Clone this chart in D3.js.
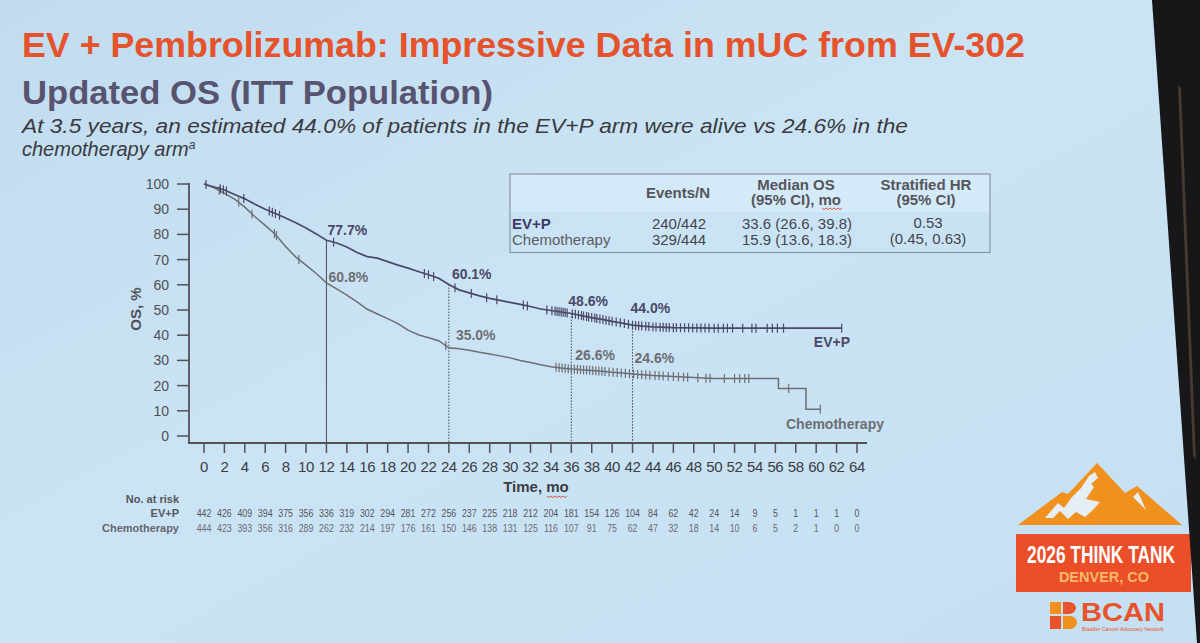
<!DOCTYPE html>
<meta charset="utf-8">
<style>
body { margin: 0; overflow: hidden; background: #c9e3f3; }
svg { display: block; font-family: "Liberation Sans", Arial, sans-serif; }
</style>
<body>
<script src="https://cdn.jsdelivr.net/npm/d3@7/dist/d3.min.js"></script>
<script>

var width = 1200, height = 643;

// Kaplan-Meier curves (time in months, OS in %)
var evpTime = [0, 1, 2, 3, 4, 5, 6, 7, 8, 9, 10, 11, 12, 13, 14, 15, 16, 17, 18, 19, 20, 21, 22, 23, 24,
  25, 26, 27, 28, 29, 30, 31, 32, 33, 34, 35, 36, 37, 38, 39, 40, 41, 42, 43, 44, 46, 50, 62.5];
var evpSurv = [100, 98.8, 97.6, 95.8, 94.1, 92.0, 90.0, 88.3, 86.5, 84.6, 82.5, 80.2, 77.7, 76.6, 75.0, 72.8, 71.2, 70.6, 69.2, 67.8, 66.6, 65.3, 64.0, 62.6, 60.1,
  58.0, 56.8, 55.6, 54.6, 53.8, 53.0, 52.2, 51.4, 50.4, 49.8, 49.2, 48.6, 47.8, 47.0, 46.3, 45.5, 44.8, 44.0, 43.6, 43.3, 43.0, 42.8, 42.8];

var chemoTime = [0, 1, 2, 3, 4, 5, 6, 7, 8, 9, 10, 11, 12, 13, 14, 15, 16, 17, 18, 19, 20, 21, 22, 23, 24,
  25, 26, 27, 28, 29, 30, 31, 32, 33, 34, 35, 36, 37, 38, 39, 40, 41, 42, 43, 44, 46, 48, 50, 56.3, 56.3, 59, 59, 60.4];
var chemoSurv = [100, 98.5, 96.3, 94.0, 90.8, 87.0, 83.6, 80.0, 75.2, 71.0, 67.8, 64.5, 60.8, 58.4, 55.9, 53.2, 50.3, 48.4, 46.6, 44.6, 42.0, 40.2, 39.0, 37.8, 35.0,
  34.6, 34.0, 33.2, 32.5, 31.8, 31.0, 30.0, 29.2, 28.3, 27.5, 27.0, 26.6, 26.3, 26.0, 25.7, 25.3, 25.0, 24.6, 24.3, 24.0, 23.6, 23.2, 22.8, 22.8, 18.8, 18.8, 10.6, 10.6];

// censoring marks (months)
var evpCensor = [0.2, 1.6, 1.9, 2.2, 3.9, 6.4, 6.7, 7.0, 7.4, 12.7, 21.6, 22.0, 22.5, 24.6, 26.2, 27.7, 28.7, 31.3, 31.7,
  33.6, 34.1, 34.4, 34.6, 34.8, 35.0, 35.2, 35.4, 35.6, 36.1, 36.4, 36.7, 37.0, 37.2, 37.5, 37.7, 38.0, 38.3, 38.5, 38.8,
  39.1, 39.4, 39.7, 40.0, 40.4, 40.8, 41.2, 41.6, 42.0, 42.3, 42.6, 42.9, 43.3, 43.6, 44.0, 44.3, 44.7, 45.0, 45.3, 45.6,
  46.0, 46.3, 46.7, 47.1, 47.5, 47.9, 48.3, 48.7, 49.1, 49.5, 50.0, 50.4, 50.9, 51.3, 51.8, 52.8, 53.7, 54.1, 55.2, 55.7,
  56.2, 56.8, 62.5];
var chemoCensor = [1.5, 3.4, 4.7, 6.9, 7.1, 9.3, 23.7, 34.5, 34.8, 35.1, 35.4, 35.7, 36.0, 36.3, 36.6, 36.9, 37.2, 37.5,
  37.8, 38.1, 38.4, 38.7, 39.0, 39.3, 39.7, 40.1, 40.5, 40.9, 41.3, 41.7, 42.1, 42.5, 42.9, 43.3, 43.7, 44.2, 44.6, 45.0,
  45.5, 46.0, 46.5, 47.0, 47.4, 48.4, 49.2, 49.6, 51.0, 52.0, 52.5, 53.0, 53.4, 57.3, 60.4];

var landmarkTime = [12, 24, 36, 42];
var evpLandmark = [77.7, 60.1, 48.6, 44.0];
var chemoLandmark = [60.8, 35.0, 26.6, 24.6];

var xTicks = [0, 2, 4, 6, 8, 10, 12, 14, 16, 18, 20, 22, 24, 26, 28, 30, 32, 34, 36, 38, 40, 42, 44, 46, 48, 50, 52, 54, 56, 58, 60, 62, 64];
var yTicks = [0, 10, 20, 30, 40, 50, 60, 70, 80, 90, 100];

var evpAtRisk = [442, 426, 409, 394, 375, 356, 336, 319, 302, 294, 281, 272, 256, 237, 225, 218, 212, 204, 181, 154, 126, 104, 84, 62, 42, 24, 14, 9, 5, 1, 1, 1, 0];
var chemoAtRisk = [444, 423, 393, 356, 316, 289, 262, 232, 214, 197, 176, 161, 150, 146, 138, 131, 125, 116, 107, 91, 75, 62, 47, 32, 18, 14, 10, 6, 5, 2, 1, 0, 0];

var tableArms = ["EV+P", "Chemotherapy"];
var tableEvents = ["240/442", "329/444"];
var tableMedian = ["33.6 (26.6, 39.8)", "15.9 (13.6, 18.3)"];
var tableHR = ["0.53", "(0.45, 0.63)"];

var evpColor = "#4b4868", chemoColor = "#6e6e72", axisColor = "#525258";

var svg = d3.select("body").append("svg")
    .attr("width", width)
    .attr("height", height);

// slide background
var defs = svg.append("defs");
var bg = defs.append("linearGradient").attr("id", "bg")
    .attr("x1", 0).attr("y1", 0).attr("x2", 1).attr("y2", 1);
bg.append("stop").attr("offset", 0).attr("stop-color", "#c1dcef");
bg.append("stop").attr("offset", 0.45).attr("stop-color", "#cae4f5");
bg.append("stop").attr("offset", 1).attr("stop-color", "#c5e0f2");
svg.append("rect").attr("width", width).attr("height", height).attr("fill", "url(#bg)");

// titles
svg.append("text").attr("x", 22).attr("y", 57)
    .attr("fill", "#e5522b").attr("font-weight", "bold").attr("font-size", 35)
    .attr("textLength", 1003).attr("lengthAdjust", "spacingAndGlyphs")
    .text("EV + Pembrolizumab: Impressive Data in mUC from EV-302");
svg.append("text").attr("x", 22).attr("y", 104)
    .attr("fill", "#58546f").attr("font-weight", "bold").attr("font-size", 33)
    .attr("textLength", 471).attr("lengthAdjust", "spacingAndGlyphs")
    .text("Updated OS (ITT Population)");
svg.append("text").attr("x", 22).attr("y", 133)
    .attr("fill", "#3a3a40").attr("font-style", "italic").attr("font-size", 20)
    .attr("textLength", 886).attr("lengthAdjust", "spacingAndGlyphs")
    .text("At 3.5 years, an estimated 44.0% of patients in the EV+P arm were alive vs 24.6% in the");
var sub2 = svg.append("text").attr("x", 22).attr("y", 156)
    .attr("fill", "#3a3a40").attr("font-style", "italic").attr("font-size", 20);
sub2.append("tspan").text("chemotherapy arm");
sub2.append("tspan").attr("font-size", 12).attr("dy", -7).text("a");

// scales
var x = d3.scaleLinear().domain([0, 64]).range([204, 857]);
var y = d3.scaleLinear().domain([0, 100]).range([436, 184]);
var axisY = 443, axisX = 189;

var g = svg.append("g");

// y axis
g.append("line").attr("x1", axisX).attr("x2", axisX).attr("y1", 183).attr("y2", axisY)
    .attr("stroke", axisColor).attr("stroke-width", 1.8);
g.selectAll(".yt").data(yTicks).enter().append("line")
    .attr("x1", axisX - 12).attr("x2", axisX)
    .attr("y1", function(d) { return y(d); }).attr("y2", function(d) { return y(d); })
    .attr("stroke", axisColor).attr("stroke-width", 1.5);
g.selectAll(".yl").data(yTicks).enter().append("text")
    .attr("x", 169).attr("y", function(d) { return y(d) + 5; })
    .attr("text-anchor", "end").attr("font-size", 14).attr("fill", "#505056")
    .text(function(d) { return d; });
g.append("text").attr("transform", "translate(141,309) rotate(-90)")
    .attr("text-anchor", "middle").attr("font-size", 15).attr("font-weight", "bold")
    .attr("fill", "#505056").text("OS, %");

// x axis
g.append("line").attr("x1", axisX - 1).attr("x2", 867).attr("y1", axisY).attr("y2", axisY)
    .attr("stroke", axisColor).attr("stroke-width", 1.8);
g.selectAll(".xt").data(xTicks).enter().append("line")
    .attr("x1", function(d) { return x(d); }).attr("x2", function(d) { return x(d); })
    .attr("y1", axisY).attr("y2", axisY + 10)
    .attr("stroke", axisColor).attr("stroke-width", 1.5);
g.selectAll(".xl").data(xTicks).enter().append("text")
    .attr("x", function(d) { return x(d); }).attr("y", 472)
    .attr("text-anchor", "middle").attr("font-size", 15).attr("fill", "#3c3c44")
    .attr("letter-spacing", -0.4)
    .text(function(d) { return d; });
g.append("text").attr("x", 536).attr("y", 492).attr("text-anchor", "middle")
    .attr("font-size", 15).attr("font-weight", "bold").attr("fill", "#3c3c44").text("Time, mo");

function squiggle(x0, x1, yy) {
  var p = "M" + x0 + "," + yy;
  for (var xx = x0, k = 0; xx < x1; xx += 2, k++) p += "L" + (xx + 2) + "," + (yy + (k % 2 ? 0 : 1.6));
  svg.append("path").attr("d", p).attr("fill", "none").attr("stroke", "#d9463a").attr("stroke-width", 0.9);
}
squiggle(547, 567, 496);

// survival helpers
function survAt(times, surv, t) {
  if (t <= times[0]) return surv[0];
  for (var i = 1; i < times.length; i++) {
    if (t <= times[i]) {
      var t0 = times[i - 1], t1 = times[i];
      if (t1 === t0) return surv[i];
      return surv[i - 1] + (surv[i] - surv[i - 1]) * (t - t0) / (t1 - t0);
    }
  }
  return surv[surv.length - 1];
}

// landmark verticals
landmarkTime.forEach(function(t, i) {
  g.append("line").attr("x1", x(t)).attr("x2", x(t))
      .attr("y1", y(evpLandmark[i])).attr("y2", axisY)
      .attr("stroke", "#4a4a52").attr("stroke-width", 1)
      .attr("stroke-dasharray", i === 0 ? null : "1.5,1.5");
});

var line = d3.line()
    .x(function(d) { return x(d[0]); })
    .y(function(d) { return y(d[1]); });

function drawArm(times, surv, censor, color, w) {
  g.append("path").datum(d3.zip(times, surv))
      .attr("d", line).attr("fill", "none")
      .attr("stroke", color).attr("stroke-width", w);
  g.selectAll(null).data(censor).enter().append("line")
      .attr("x1", function(d) { return x(d); }).attr("x2", function(d) { return x(d); })
      .attr("y1", function(d) { return y(survAt(times, surv, d)) - 4.5; })
      .attr("y2", function(d) { return y(survAt(times, surv, d)) + 4.5; })
      .attr("stroke", color).attr("stroke-width", 1.2);
}
drawArm(chemoTime, chemoSurv, chemoCensor, chemoColor, 1.5);
drawArm(evpTime, evpSurv, evpCensor, evpColor, 1.7);

// landmark labels
var evpNudge = [[1, -5], [3, -6], [-3, -8], [-2, -12]];
var chemoNudge = [[2, -1], [7, -8], [4, -9], [2, -11]];
landmarkTime.forEach(function(t, i) {
  g.append("text").attr("x", x(t) + evpNudge[i][0]).attr("y", y(evpLandmark[i]) + evpNudge[i][1])
      .attr("font-size", 14).attr("font-weight", "bold").attr("fill", evpColor)
      .text(evpLandmark[i].toFixed(1) + "%");
  g.append("text").attr("x", x(t) + chemoNudge[i][0]).attr("y", y(chemoLandmark[i]) + chemoNudge[i][1])
      .attr("font-size", 14).attr("font-weight", "bold").attr("fill", chemoColor)
      .text(chemoLandmark[i].toFixed(1) + "%");
});
g.append("text").attr("x", 850).attr("y", 347).attr("text-anchor", "end")
    .attr("font-size", 14).attr("font-weight", "bold").attr("fill", evpColor).text("EV+P");
g.append("text").attr("x", 884).attr("y", 429).attr("text-anchor", "end")
    .attr("font-size", 14).attr("font-weight", "bold").attr("fill", chemoColor).text("Chemotherapy");

// numbers at risk
g.append("text").attr("x", 179).attr("y", 503).attr("text-anchor", "end")
    .attr("font-size", 11).attr("font-weight", "bold").attr("fill", "#55555c").text("No. at risk");
g.append("text").attr("x", 179).attr("y", 517).attr("text-anchor", "end")
    .attr("font-size", 11).attr("font-weight", "bold").attr("fill", "#55555c").text("EV+P");
g.append("text").attr("x", 179).attr("y", 532).attr("text-anchor", "end")
    .attr("font-size", 11).attr("font-weight", "bold").attr("fill", "#66666c").text("Chemotherapy");
[[evpAtRisk, 517, "#55555c"], [chemoAtRisk, 532, "#6a6a70"]].forEach(function(row) {
  g.selectAll(null).data(row[0]).enter().append("text")
      .attr("transform", function(d, i) { return "translate(" + x(xTicks[i]) + "," + row[1] + ") scale(0.84,1)"; })
      .attr("text-anchor", "middle").attr("font-size", 10.5).attr("fill", row[2])
      .text(function(d) { return d; });
});

// summary table
var tb = svg.append("g");
tb.append("rect").attr("x", 510).attr("y", 174).attr("width", 480).attr("height", 38)
    .attr("fill", "#d4eaf8");
tb.append("rect").attr("x", 510).attr("y", 174).attr("width", 480).attr("height", 78.5)
    .attr("fill", "none").attr("stroke", "#8795a0").attr("stroke-width", 1.2);
var hdr = { "font-size": 15, "font-weight": "bold", "fill": "#55555c", "text-anchor": "middle" };
function txt(xx, yy, s, a) {
  var t = tb.append("text").attr("x", xx).attr("y", yy).text(s);
  for (var k in a) t.attr(k, a[k]);
  return t;
}
txt(678, 198, "Events/N", hdr);
txt(796, 190, "Median OS", hdr);
txt(796, 205, "(95% CI), mo", hdr);
txt(926, 190, "Stratified HR", hdr);
txt(926, 205, "(95% CI)", hdr);
squiggle(822, 842, 208);
var cell = { "font-size": 15, "fill": "#45454c", "text-anchor": "middle" };
tableArms.forEach(function(a, i) {
  var yy = i === 0 ? 229 : 245;
  txt(512, yy, a, { "font-size": 15, "font-weight": i === 0 ? "bold" : "normal",
    "fill": i === 0 ? "#3d3a68" : "#5c5c62" });
  txt(679, yy, tableEvents[i], cell);
  txt(797, yy, tableMedian[i], cell);
  txt(928, yy - 1, tableHR[i], cell);
});

// conference logo
var logo = svg.append("g");
logo.append("path")
    .attr("d", "M1018,525 L1062,492 L1068,494 L1097,463 L1125,493 L1137,486 L1182,525 Z")
    .attr("fill", "#f0911e");
logo.append("path")
    .attr("d", "M1045,518 L1058,503 L1064,508 L1072,497 L1081,488 L1089,476 L1095,472 L1098,478 L1091,484 L1094,487 L1086,499 L1100,502 L1093,510 L1085,517 L1076,512 L1068,519 L1060,511 L1053,518 Z")
    .attr("fill", "#e4eef4");
logo.append("path").attr("d", "M1133,497 L1138,492 L1146,510 Z").attr("fill", "#e4eef4");
logo.append("rect").attr("x", 1016).attr("y", 534).attr("width", 175).attr("height", 58)
    .attr("fill", "#ea4f2a");
logo.append("text").attr("transform", "translate(1027,563) scale(1,1.45)")
    .attr("fill", "#ffffff").attr("font-size", 17).attr("font-weight", "bold")
    .attr("textLength", 148).attr("lengthAdjust", "spacingAndGlyphs").text("2026 THINK TANK");
logo.append("text").attr("x", 1104).attr("y", 582).attr("text-anchor", "middle")
    .attr("fill", "#f9b967").attr("font-size", 14.5).attr("font-weight", "bold").text("DENVER, CO");
logo.append("rect").attr("x", 1050).attr("y", 602).attr("width", 11).attr("height", 12).attr("fill", "#f0911e");
logo.append("rect").attr("x", 1050).attr("y", 616).attr("width", 11).attr("height", 13).attr("fill", "#e8532b");
logo.append("path").attr("d", "M1063,602 h6 a7,6 0 0 1 0,12 h-6 Z").attr("fill", "#e8532b");
logo.append("path").attr("d", "M1063,616 h7 a7,6.5 0 0 1 0,13 h-7 Z").attr("fill", "#f0911e");
logo.append("text").attr("x", 1081).attr("y", 621).attr("fill", "#e8532b")
    .attr("font-size", 26).attr("font-weight", "bold")
    .attr("textLength", 84).attr("lengthAdjust", "spacingAndGlyphs").text("BCAN");
logo.append("text").attr("x", 1082).attr("y", 631).attr("fill", "#e8532b")
    .attr("font-size", 4.5).attr("textLength", 82).attr("lengthAdjust", "spacingAndGlyphs")
    .text("Bladder Cancer Advocacy Network");

// projector screen edge
svg.append("path").attr("d", "M1152,0 L1200,0 L1200,643 L1197,643 Z").attr("fill", "#17171a");
svg.append("path").attr("d", "M1178,85 L1181,88 L1196,460 L1193,455 Z").attr("fill", "#5b4a3c").attr("opacity", 0.7);

</script>
</body>
